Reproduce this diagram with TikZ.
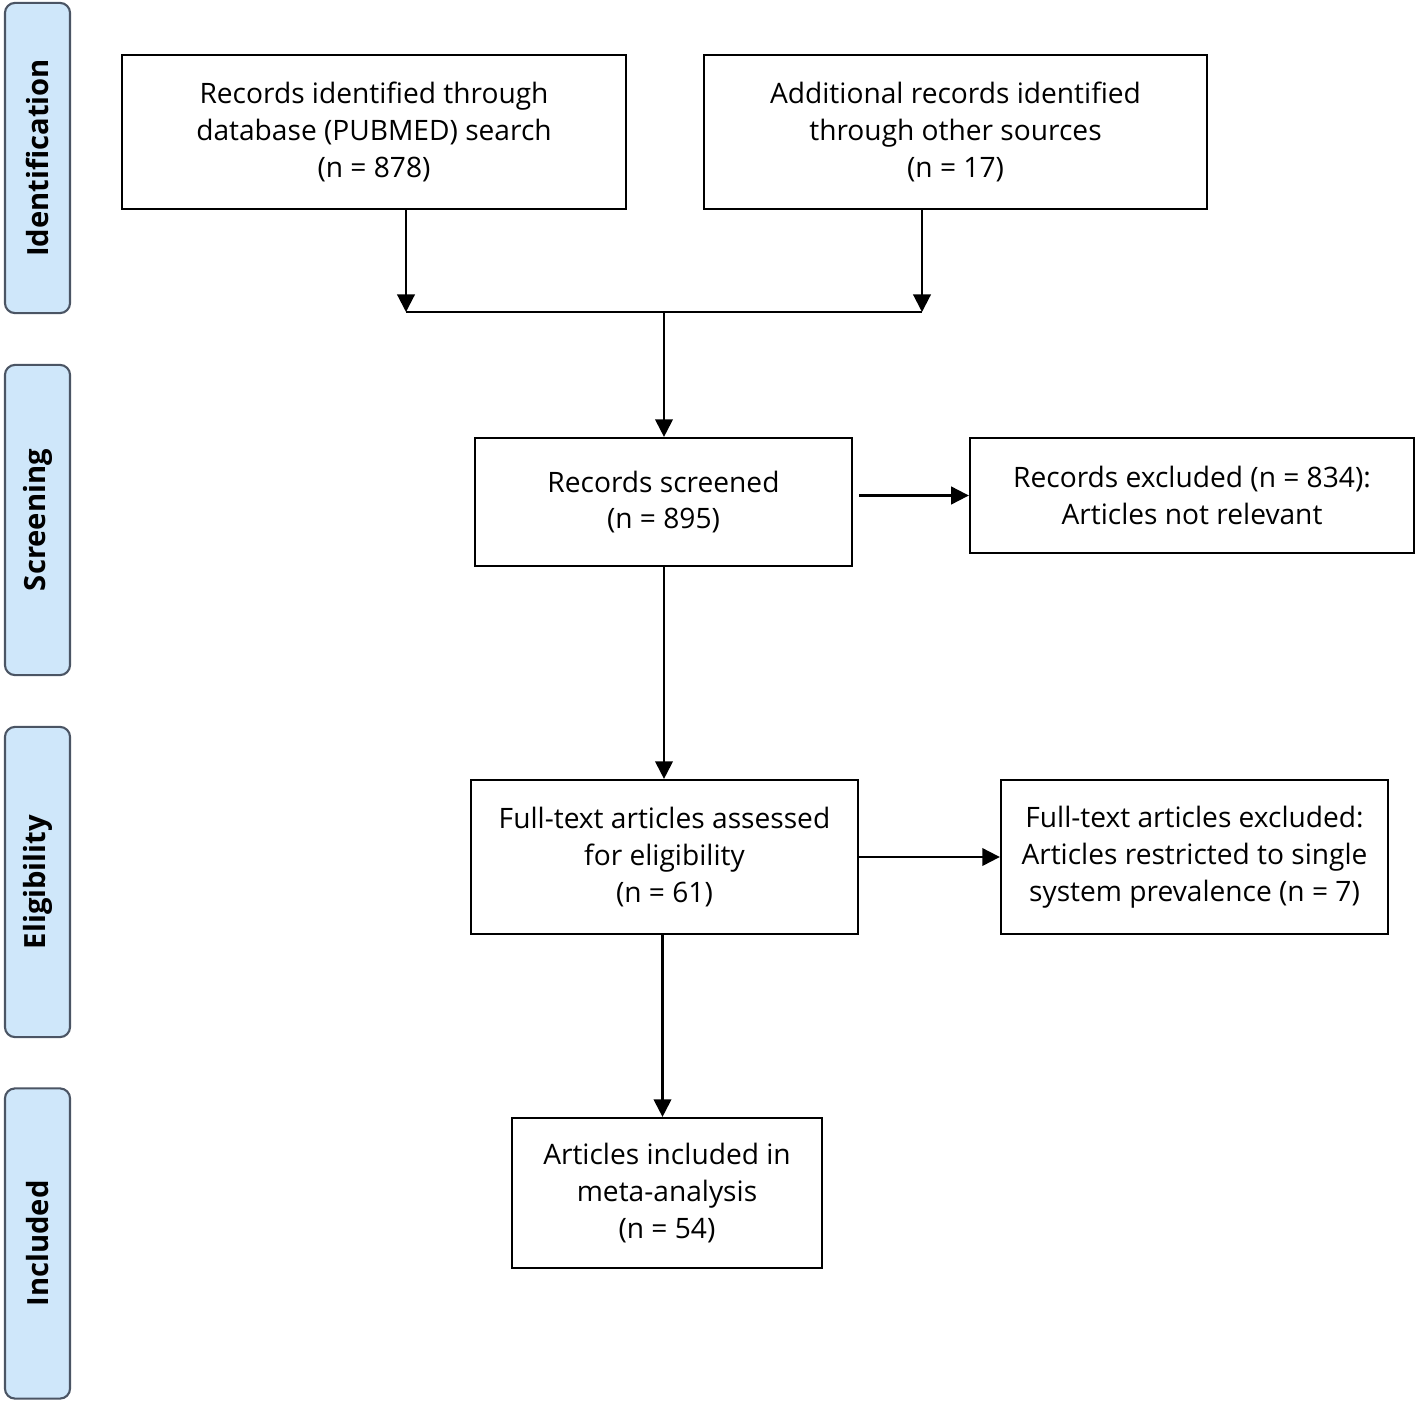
\documentclass[tikz,border=0pt]{standalone}
\usepackage{fontspec}
\setmainfont{Open Sans}
\usetikzlibrary{arrows.meta, positioning, calc}
\definecolor{stagefill}{RGB}{207,231,250}
\definecolor{stageline}{RGB}{75,85,100}

\begin{document}
\begin{tikzpicture}[x=0.01cm, y=-0.01cm,
	box/.style={draw, line width=0.6pt, align=center, inner sep=0pt, font=\fontsize{8}{10.5}\selectfont},
	stage/.style={draw=stageline, fill=stagefill, line width=0.6pt, rounded corners=0.1cm, rotate=90, minimum width=3.1cm, minimum height=0.65cm, inner sep=0pt, font=\bfseries\fontsize{8.3}{10}\selectfont},
	arr/.style={-{Triangle[length=5pt, width=5pt]}, line width=0.6pt}]
	\useasboundingbox (0,0) rectangle (1418,1403);

	\node[stage] (sid) at (37.5,158) {Identification};
	\node[stage] (sscr) at (37.5,520) {Screening};
	\node[stage] (selig) at (37.5,882) {Eligibility};
	\node[stage] (sincl) at (37.5,1243.5) {Included};

	\node[box, minimum width=5.04cm, minimum height=1.54cm] (pubmed) at (374,132) {Records identified through\\database (PUBMED) search\\(n = 878)};
	\node[box, minimum width=5.03cm, minimum height=1.54cm] (other) at (955.5,132) {Additional records identified\\through other sources\\(n = 17)};
	\node[box, minimum width=3.77cm, minimum height=1.28cm] (screened) at (663.5,502) {Records screened\\(n = 895)};
	\node[box, minimum width=4.44cm, minimum height=1.15cm] (excluded) at (1192,495.5) {Records excluded (n = 834):\\Articles not relevant};
	\node[box, minimum width=3.87cm, minimum height=1.54cm] (fulltext) at (664.5,857) {Full-text articles assessed\\for eligibility\\(n = 61)};
	\node[box, minimum width=3.87cm, minimum height=1.54cm] (ftexcl) at (1194.5,857) {Full-text articles excluded:\\Articles restricted to single\\system prevalence (n = 7)};
	\node[box, minimum width=3.10cm, minimum height=1.50cm] (included) at (667,1193) {Articles included in\\meta-analysis\\(n = 54)};

	\coordinate (jl) at (406,312);
	\coordinate (jr) at (922,312);
	\coordinate (jm) at (664,312);

	\draw[arr] (pubmed.south -| jl) -- (jl);
	\draw[arr] (other.south -| jr) -- (jr);
	\draw[line width=0.6pt] (jl) -- (jr);
	\draw[arr] (jm) -- (screened.north -| jm);
	\draw[arr, shorten <=0.06cm] (screened.east |- excluded.west) -- (excluded.west);
	\draw[arr] (screened.south -| jm) -- (fulltext.north -| jm);
	\draw[arr] (fulltext.east) -- (ftexcl.west);
	\draw[arr] ([xshift=-0.02cm]fulltext.south) -- ([xshift=-0.02cm]fulltext.south |- included.north);
\end{tikzpicture}
\end{document}
